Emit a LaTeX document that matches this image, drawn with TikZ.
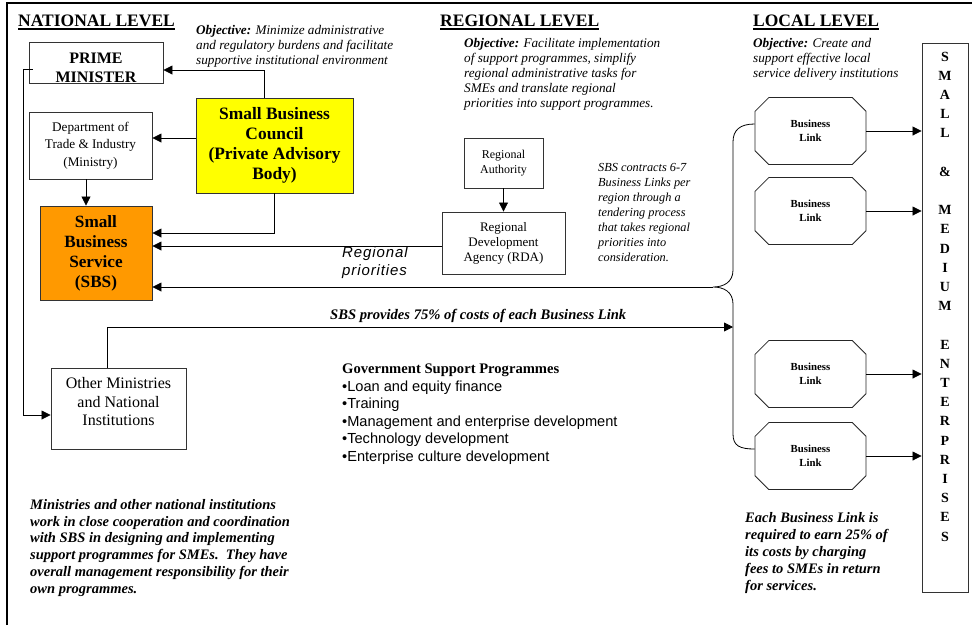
\documentclass[tikz,border=0pt]{standalone}
\usepackage{fontspec}
\setmainfont{Liberation Serif}
\setsansfont{Liberation Sans}
\usetikzlibrary{arrows.meta,shapes.misc}

\definecolor{sbcyellow}{HTML}{FFFF00}
\definecolor{sbsorange}{HTML}{FF9900}

\newcommand{\fsz}[2]{\fontsize{#1}{#2}\selectfont}
\newcommand{\headline}[1]{\setbox0\hbox{#1}\rlap{\rule[-3.5pt]{\wd0}{1.8pt}}\box0}

\begin{document}
\begin{tikzpicture}[x=1pt, y=-1pt,
  orgbox/.style={draw=black!80, line width=0.9pt, inner sep=0pt, align=center},
  linkbox/.style={draw=black!85, line width=0.8pt, chamfered rectangle,
    chamfered rectangle xsep=17pt, inner sep=0pt, minimum width=111pt,
    minimum height=67pt, align=center, font=\fsz{10.8}{14}\bfseries},
  note/.style={inner sep=0pt, anchor=north west, align=left},
  levelhead/.style={inner sep=0pt, anchor=base west, font=\fsz{17.5}{20}\bfseries},
  flowarrow/.style={-{Triangle[length=9pt,width=9pt]}, line width=0.8pt}
]
\useasboundingbox (0,0) rectangle (972,625);
\draw[line width=1.2pt] (7,625) -- (7,3) -- (972,3);

% national level
\node[levelhead] (natlevel) at (18,26) {\headline{NATIONAL LEVEL}};
\node[note, font=\fsz{13.2}{15}\itshape] (natobj) at (196,25)
  {\textbf{Objective:} Minimize administrative\\and regulatory burdens and facilitate\\supportive institutional environment};
\node[orgbox, minimum width=134pt, minimum height=40pt, font=\fsz{16}{19}\bfseries] (pm) at (96,63) {\rule{0pt}{21pt}PRIME\\MINISTER};
\node[orgbox, minimum width=123pt, minimum height=67pt, font=\fsz{13.2}{17.5}] (dti) at (90.5,145.5) {Department of\\Trade \& Industry\\(Ministry)};
\node[orgbox, fill=sbcyellow, minimum width=157pt, minimum height=95pt, font=\fsz{17.4}{20}\bfseries] (sbc) at (274.5,145.5) {Small Business\\Council\\(Private Advisory\\Body)};
\node[orgbox, fill=sbsorange, minimum width=112pt, minimum height=94pt, font=\fsz{17.2}{20}\bfseries] (sbs) at (96,253) {Small\\Business\\Service\\(SBS)};
\node[orgbox, minimum width=135pt, minimum height=81pt, font=\fsz{16}{18.5}] (omni) at (118.5,408.5) {Other Ministries\\and National\\Institutions\rule[-14pt]{0pt}{1pt}};

% regional level
\node[levelhead] (reglevel) at (440,26) {\headline{REGIONAL LEVEL}};
\node[note, font=\fsz{13.2}{15}\itshape] (regobj) at (464,38)
  {\textbf{Objective:} Facilitate implementation\\of support programmes, simplify\\regional administrative tasks for\\SMEs and translate regional\\priorities into support programmes.};
\node[orgbox, minimum width=79pt, minimum height=50pt, font=\fsz{12}{15}] (ra) at (503.5,163) {Regional\\Authority};
\node[orgbox, minimum width=123pt, minimum height=62pt, font=\fsz{13}{15}] (rda) at (503.5,243) {Regional\\Development\\Agency (RDA)};
\node[note, font=\fsz{12.3}{15}\itshape] (sbsnote) at (598,163)
  {SBS contracts 6-7\\Business Links per\\region through a\\tendering process\\that takes regional\\priorities into\\consideration.};
\node[note, font=\fsz{15}{18}\sffamily\itshape\addfontfeature{LetterSpace=6}] (regprio) at (342,246) {Regional\\priorities};

% local level
\node[levelhead] (loclevel) at (753,26) {\headline{LOCAL LEVEL}};
\node[note, font=\fsz{13.2}{15}\itshape] (locobj) at (753,38)
  {\textbf{Objective:} Create and\\support effective local\\service delivery institutions};
\foreach \n/\y in {1/131,2/211,3/374,4/456}
  \node[linkbox] (bl\n) at (810.5,\y) {Business\\Link};
\node[orgbox, minimum width=46pt, minimum height=549pt] (sme) at (945,317.5) {};
\node[inner sep=0pt, anchor=north, align=center, font=\fsz{14}{19.2}\bfseries] (smeletters) at ([yshift=-9pt]sme.north)
  {S\\M\\A\\L\\L\\[19.2pt]\&\\[19.2pt]M\\E\\D\\I\\U\\M\\[19.2pt]E\\N\\T\\E\\R\\P\\R\\I\\S\\E\\S};

% programmes and notes
\node[inner sep=0pt, anchor=base west, font=\fsz{14.6}{15}\bfseries\itshape] (costnote) at (330,319) {SBS provides 75\% of costs of each Business Link};
\node[note, font=\fsz{14.6}{17.5}\sffamily] (govprog) at (342,364)
  {{\rmfamily\bfseries Government Support Programmes}\\\textbullet Loan and equity finance\\\textbullet Training\\\textbullet Management and enterprise development\\\textbullet Technology development\\\textbullet Enterprise culture development};
\node[note, font=\fsz{14.5}{16.8}\bfseries\itshape] (minnote) at (30,499)
  {Ministries and other national institutions\\work in close cooperation and coordination\\with SBS in designing and implementing\\support programmes for SMEs.\ \ They have\\overall management responsibility for their\\own programmes.};
\node[note, font=\fsz{14.5}{17}\bfseries\itshape] (blnote) at (745,512)
  {Each Business Link is\\required to earn 25\% of\\its costs by charging\\fees to SMEs in return\\for services.};

% connectors
\coordinate (cusp) at (713,287);
\coordinate (bracein) at (733,327);
\draw[flowarrow] ([xshift=-10.5pt]sbc.north) |- ([yshift=-7pt]pm.east);
\draw[flowarrow] ([yshift=7.5pt]sbc.west) -- ([yshift=7.5pt]dti.east);
\draw[flowarrow] ([xshift=-4.5pt]dti.south) -- ([xshift=-10pt]sbs.north);
\draw[flowarrow] (sbc.south) |- ([yshift=20pt]sbs.east);
\draw[flowarrow] ([yshift=-3pt]rda.west) -- ([yshift=-3pt]rda.west -| sbs.east);
\draw[flowarrow] (ra.south) -- (rda.north);
\draw[flowarrow] (cusp) -- (cusp -| sbs.east);
\draw[flowarrow] ([xshift=-11.5pt]omni.north) |- (bracein);
\draw[flowarrow] ([xshift=4pt,yshift=-6pt]pm.west) -- ++(-9,0) |- ([yshift=-6.5pt]omni.west);
\draw[line width=0.8pt] ([yshift=7pt]bl1.west) .. controls (740,124) and (733,130) .. (733,142)
  -- (733,270) .. controls (733,282) and (724,287) .. (cusp)
  .. controls (724,287) and (733,292) .. (733,304)
  -- (733,434) .. controls (733,446) and (740,449) .. ([yshift=7pt]bl4.west);
\foreach \n in {1,...,4}
  \draw[flowarrow] (bl\n.east) -- (bl\n.east -| sme.west);
\end{tikzpicture}
\end{document}
